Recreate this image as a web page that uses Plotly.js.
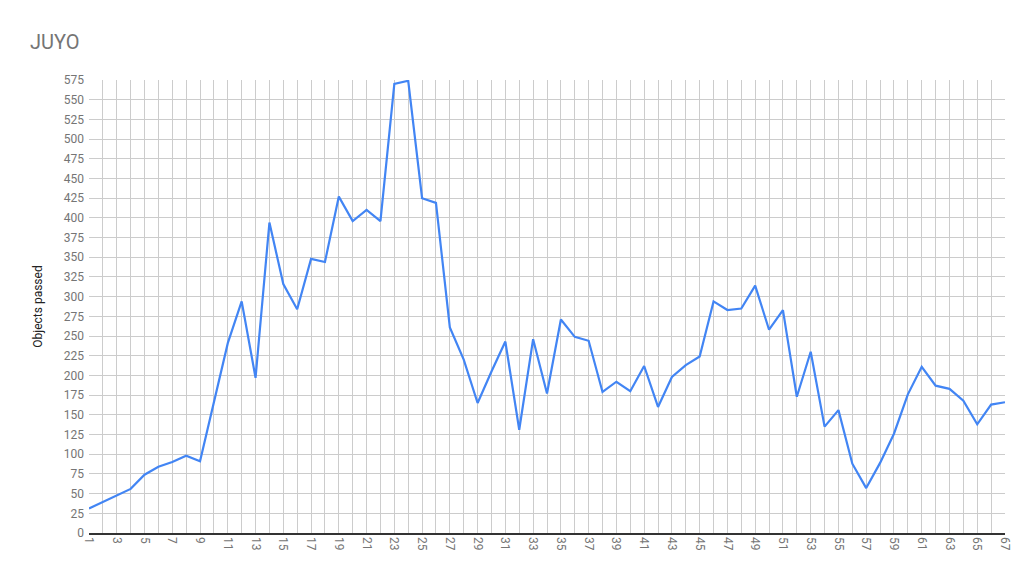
<!DOCTYPE html>
<html>
<head>
<meta charset="utf-8">
<script src="https://cdn.plot.ly/plotly-3.0.1.min.js"></script>
<style>html,body{margin:0;padding:0;background:#fff;}#chart{width:1034px;height:583px;}</style>
</head>
<body>
<div id="chart"></div>
<script>
const days = Array.from({length: 67}, (_, i) => i + 1);
const objectsPassed = [
  31, 39, 48, 56, 74, 84, 90, 98, 91, 168,
  241, 294, 197, 394, 316, 284, 348, 344, 427, 396,
  410, 396, 570, 574, 425, 419, 261, 220, 165, 205,
  243, 131, 246, 177, 271, 249, 244, 179, 192, 180,
  212, 160, 198, 213, 224, 294, 283, 285, 314, 258,
  283, 173, 230, 135, 156, 88, 57, 89, 126, 176,
  211, 187, 183, 168, 138, 163, 166
];
const xTickVals = days.filter(d => d % 2 === 1);
const yTickVals = Array.from({length: 24}, (_, i) => i * 25);

const trace = {
  x: days,
  y: objectsPassed,
  type: 'scatter',
  mode: 'lines',
  line: {color: '#4285f4', width: 2.2},
  hoverinfo: 'x+y'
};

const layout = {
  width: 1034,
  height: 583,
  margin: {l: 89, r: 29, t: 80, b: 50},
  paper_bgcolor: '#ffffff',
  plot_bgcolor: '#ffffff',
  showlegend: false,
  font: {family: 'Roboto, Arial, sans-serif', color: '#757575'},
  title: {
    text: 'JUYO',
    x: 30 / 1034, xref: 'container', xanchor: 'left',
    y: 1 - 42 / 583, yref: 'container', yanchor: 'middle',
    font: {size: 20, color: '#757575', family: 'Roboto, Arial, sans-serif'}
  },
  xaxis: {
    range: [1, 67],
    tickmode: 'array',
    tickvals: xTickVals,
    ticktext: xTickVals.map(String),
    tickangle: 90,
    tickfont: {size: 12, color: '#757575'},
    showgrid: true,
    gridcolor: '#cccccc',
    gridwidth: 1,
    minor: {dtick: 1, showgrid: true, gridcolor: '#cccccc', gridwidth: 1},
    zeroline: false,
    showline: true,
    linecolor: '#333333',
    linewidth: 1.5,
    ticks: '',
    fixedrange: true
  },
  yaxis: {
    range: [0, 575],
    tickmode: 'array',
    tickvals: yTickVals,
    ticktext: yTickVals.map(String),
    tickfont: {size: 12, color: '#757575'},
    showgrid: true,
    gridcolor: '#cccccc',
    gridwidth: 1,
    zeroline: false,
    showline: false,
    ticks: '',
    ticklabelstandoff: 4,
    title: {text: 'Objects passed', font: {size: 12, color: '#222222'}, standoff: 18},
    fixedrange: true
  }
};

Plotly.newPlot('chart', [trace], layout, {displayModeBar: false, staticPlot: true});
</script>
</body>
</html>
